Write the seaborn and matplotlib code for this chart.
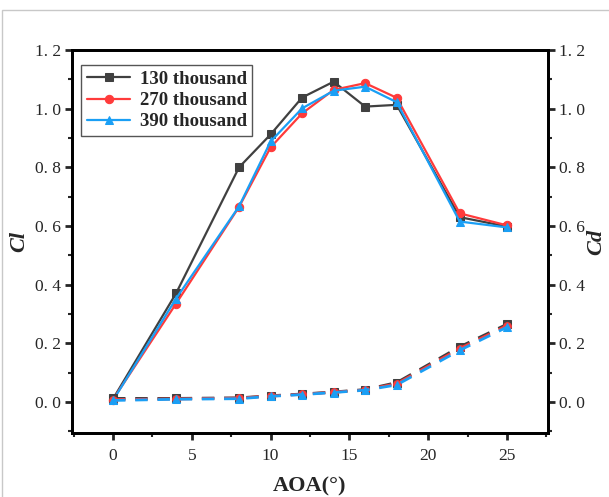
import matplotlib
matplotlib.use("Agg")
import matplotlib.pyplot as plt
import seaborn as sns
import pandas as pd
from matplotlib.patches import Rectangle
from matplotlib.ticker import MultipleLocator, FuncFormatter

aoa = [0, 4, 8, 10, 12, 14, 16, 18, 22, 25]
series_names = ["130 thousand", "270 thousand", "390 thousand"]
cl_130 = [0.010, 0.370, 0.800, 0.912, 1.038, 1.092, 1.007, 1.013, 0.630, 0.598]
cl_270 = [0.008, 0.335, 0.665, 0.868, 0.984, 1.064, 1.087, 1.037, 0.643, 0.602]
cl_390 = [0.005, 0.352, 0.667, 0.888, 1.001, 1.061, 1.075, 1.022, 0.615, 0.595]
cd_130 = [0.012, 0.012, 0.014, 0.021, 0.027, 0.034, 0.042, 0.066, 0.188, 0.265]
cd_270 = [0.008, 0.010, 0.013, 0.020, 0.026, 0.033, 0.041, 0.062, 0.182, 0.260]
cd_390 = [0.005, 0.009, 0.011, 0.019, 0.025, 0.032, 0.040, 0.058, 0.176, 0.255]
colors = ["#404040", "#FF3B3B", "#1A9FF5"]
markers = ["s", "o", "^"]

sns.set_theme(style="white")
plt.rcParams["font.family"] = ["Liberation Serif", "DejaVu Serif"]

fig = plt.figure(figsize=(6.09, 4.97), dpi=100)
ax = fig.add_axes([72 / 609, 1 - 433 / 497, (548 - 72) / 609, (433 - 50) / 497])
ax2 = ax.twinx()

cl_all = [cl_130, cl_270, cl_390]
cd_all = [cd_130, cd_270, cd_390]

for name, cl, col, mk in zip(series_names, cl_all, colors, markers):
    df = pd.DataFrame({"AOA": aoa, "val": cl})
    sns.lineplot(data=df, x="AOA", y="val", ax=ax, color=col, marker=mk,
                 markersize=6, markeredgecolor=col, linewidth=1.6, label=name)

for name, cd, col, mk in zip(series_names, cd_all, colors, markers):
    df = pd.DataFrame({"AOA": aoa, "val": cd})
    sns.lineplot(data=df, x="AOA", y="val", ax=ax2, color=col, marker=mk,
                 markersize=5.5, markeredgecolor=col, linewidth=2.0,
                 linestyle=(0, (4.5, 3.5)), legend=False)

for a in (ax, ax2):
    a.set_xlim(-2.6, 27.6)
    a.set_ylim(-0.106, 1.2)
    a.yaxis.set_major_locator(MultipleLocator(0.2))
    a.yaxis.set_minor_locator(MultipleLocator(0.1))
    a.xaxis.set_major_locator(MultipleLocator(5))
    a.xaxis.set_minor_locator(MultipleLocator(2.5))
    for sp in a.spines.values():
        sp.set_linewidth(2.0)
        sp.set_color("black")
        sp.set_visible(True)

fmt = FuncFormatter(lambda v, p: ("%.1f" % v).replace(".", ". ") if abs(v) > 1e-9 else "0. 0")
ax.yaxis.set_major_formatter(fmt)
ax2.yaxis.set_major_formatter(fmt)

ax.tick_params(axis="y", which="major", direction="out", length=5, width=2,
               labelsize=12.5, left=True, right=False, pad=3)
ax.tick_params(axis="y", which="minor", direction="out", length=3, width=1.5, left=True, right=False)
ax.tick_params(axis="x", which="major", direction="out", length=5, width=2,
               labelsize=12.5, bottom=True, top=False, pad=6)
ax.tick_params(axis="x", which="minor", direction="out", length=3, width=1.5, bottom=True)
ax2.tick_params(axis="y", which="major", direction="out", length=5, width=2,
                labelsize=12.5, right=True, left=False, pad=3)
ax2.tick_params(axis="y", which="minor", direction="out", length=3, width=1.5, right=True, left=False)
# inward ticks along the top edge
ax2.tick_params(axis="x", which="major", direction="in", length=5, width=2, top=True, bottom=False, labeltop=False, labelbottom=False)
ax2.tick_params(axis="x", which="minor", direction="in", length=3, width=1.5, top=True, bottom=False)
ax2.xaxis.set_ticks_position("top")

ax.set_xlabel("AOA(°)", fontsize=16, fontweight="bold", labelpad=9)
ax.set_ylabel("Cl", fontsize=16, fontweight="bold", fontstyle="italic", labelpad=4)
ax2.set_ylabel("Cd", fontsize=16, fontweight="bold", fontstyle="italic", labelpad=1)

leg = ax.legend(loc="upper left", bbox_to_anchor=(0.0, 0.985), frameon=True,
                fancybox=False, edgecolor="#555555", framealpha=1,
                prop={"family": "Liberation Serif", "weight": "bold", "size": 13.5},
                handlelength=2.3, handletextpad=0.5, borderpad=0.3, labelspacing=0.22)
leg.get_frame().set_linewidth(1.0)

# light frame around the whole figure
fig.patches.append(Rectangle((2 / 609, -0.01), 1.0, 1 - 10 / 497 + 0.01,
                             transform=fig.transFigure, fill=False,
                             edgecolor="#C8C8C8", linewidth=1.0))

fig.savefig("out.png", dpi=100)
